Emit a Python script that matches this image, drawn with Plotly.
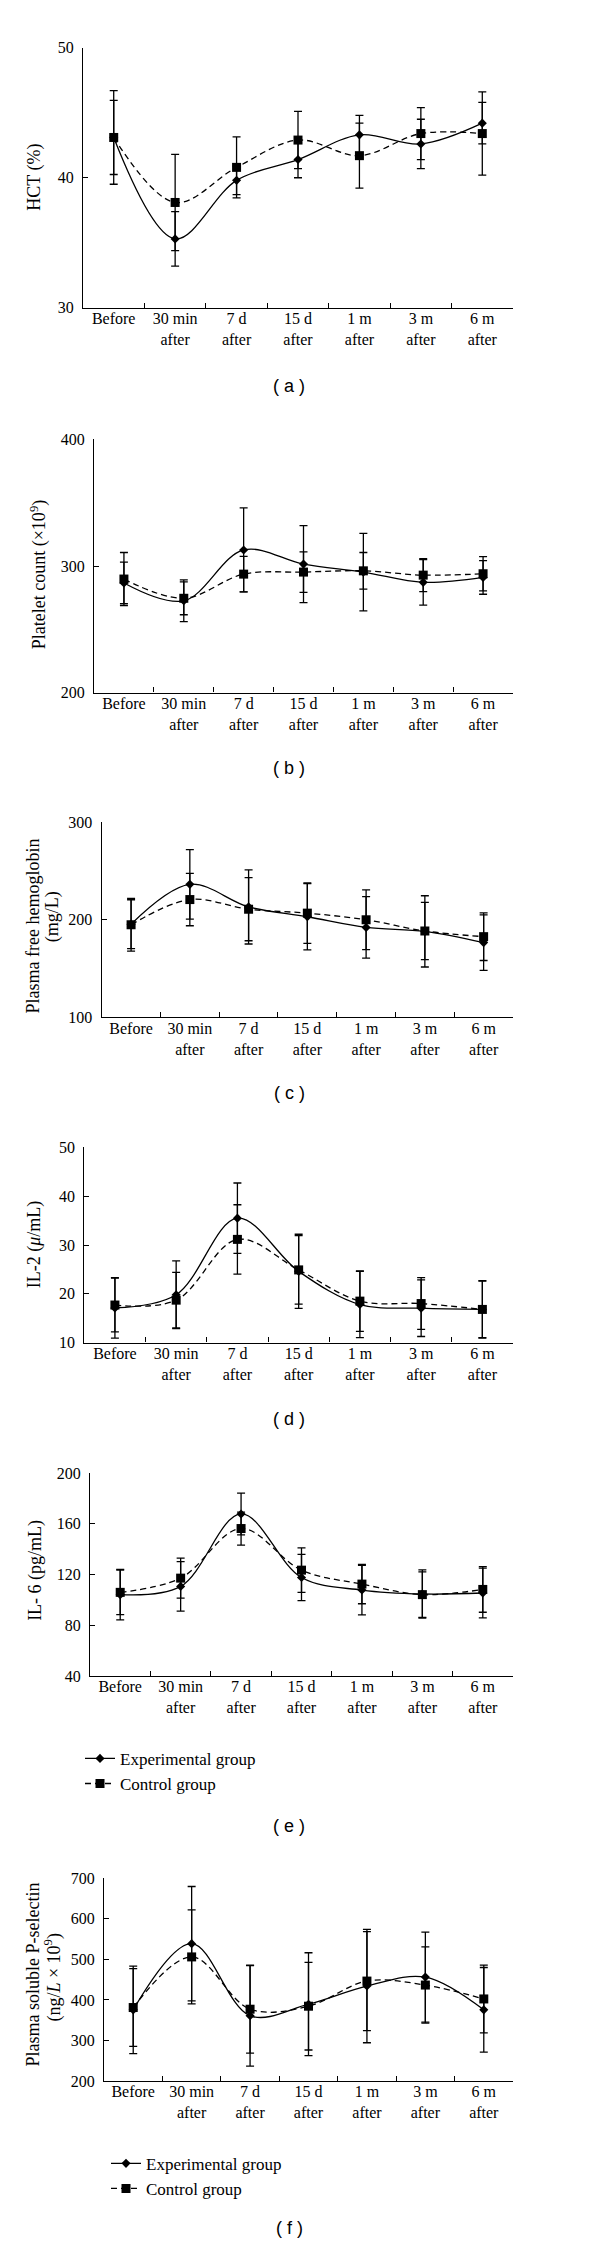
import plotly.graph_objects as go

W, H = 600, 2251

categories = ["Before", "30 min<br>after", "7 d<br>after", "15 d<br>after",
              "1 m<br>after", "3 m<br>after", "6 m<br>after"]

# (a) HCT (%)
hct_exp = [43.1, 35.3, 39.8, 41.4, 43.3, 42.6, 44.2]
hct_exp_sd = [2.85, 2.1, 1.1, 1.4, 1.5, 1.9, 1.6]
hct_ctl = [43.1, 38.1, 40.8, 42.9, 41.7, 43.4, 43.4]
hct_ctl_sd = [3.6, 3.7, 2.35, 2.2, 2.5, 2.0, 3.2]

# (b) Platelet count
plt_exp = [286.6, 272.5, 312.7, 301.5, 295.2, 287.1, 291.0]
plt_exp_sd = [16.4, 16.5, 33.2, 30.5, 30.6, 18.0, 13.3]
plt_ctl = [289.7, 274.5, 293.6, 295.2, 296.2, 292.8, 293.9]
plt_ctl_sd = [21.0, 13.0, 14.0, 16.0, 14.5, 13.0, 13.6]

# (c) Plasma free hemoglobin
hb_exp = [195.5, 236.3, 213.2, 203.1, 192.2, 188.1, 176.6]
hb_exp_sd = [25.0, 35.6, 38.0, 34.0, 31.5, 36.5, 28.5]
hb_ctl = [194.9, 220.7, 210.8, 206.8, 200.0, 188.5, 182.7]
hb_ctl_sd = [27.0, 26.8, 32.3, 31.0, 30.6, 29.4, 24.4]

# (d) IL-2
il2_exp = [17.1, 19.8, 35.5, 24.6, 17.8, 17.05, 16.8]
il2_exp_sd = [6.2, 6.95, 7.2, 7.6, 6.8, 5.8, 5.9]
il2_ctl = [17.7, 18.7, 31.15, 24.9, 18.5, 18.0, 16.8]
il2_ctl_sd = [5.5, 5.7, 7.1, 7.0, 6.2, 5.3, 5.8]

# (e) IL-6
il6_exp = [104.2, 110.7, 167.8, 117.7, 107.8, 104.7, 105.5]
il6_exp_sd = [19.9, 19.5, 16.5, 18.2, 19.5, 19.0, 19.6]
il6_ctl = [106.0, 117.2, 156.3, 123.5, 112.5, 104.2, 108.3]
il6_ctl_sd = [17.5, 15.8, 13.0, 17.6, 15.5, 18.0, 18.0]

# (f) Plasma soluble P-selectin
ps_exp = [375.5, 538.8, 360.8, 389.4, 434.3, 456.3, 375.5]
ps_exp_sd = [108.0, 141.0, 124.0, 127.0, 140.0, 111.0, 104.5]
ps_ctl = [381.2, 506.1, 377.1, 384.5, 446.5, 436.7, 402.4]
ps_ctl_sd = [96.0, 116.0, 108.5, 108.0, 122.0, 94.0, 83.5]

y_ranges = [[30, 50], [200, 400], [100, 300], [10, 50], [40, 200], [200, 700]]
y_ticks = [[30, 40, 50], [200, 300, 400], [100, 200, 300],
           [10, 20, 30, 40, 50], [40, 80, 120, 160, 200],
           [200, 300, 400, 500, 600, 700]]
captions = ["( a )", "( b )", "( c )", "( d )", "( e )", "( f )"]

panels = [
    (hct_exp, hct_exp_sd, hct_ctl, hct_ctl_sd),
    (plt_exp, plt_exp_sd, plt_ctl, plt_ctl_sd),
    (hb_exp, hb_exp_sd, hb_ctl, hb_ctl_sd),
    (il2_exp, il2_exp_sd, il2_ctl, il2_ctl_sd),
    (il6_exp, il6_exp_sd, il6_ctl, il6_ctl_sd),
    (ps_exp, ps_exp_sd, ps_ctl, ps_ctl_sd),
]

# layout boxes in pixels: x0, x1, ytop, ybottom
boxes = [
    (75, 505, 32, 294),
    (86, 505, 426.7, 681.7),
    (93.7, 505, 812.3, 1009),
    (76.3, 505, 1140, 1336.7),
    (82, 505, 1468.2, 1672.7),
    (96, 505, 1876.5, 2080.7),
]
caption_y = [373, 758, 1085, 1414, 1824, 2229]

SERIF = "Liberation Serif"
SANS = "Liberation Sans"

fig = go.Figure()
layout = {}
for i, ((e, esd, c, csd), (x0, x1, yt, yb)) in enumerate(zip(panels, boxes)):
    n = i + 1
    xa = "x" if n == 1 else f"x{n}"
    ya = "y" if n == 1 else f"y{n}"
    legend_name = "legend" if n == 5 else "legend2"
    show = n in (5, 6)
    fig.add_trace(go.Scatter(
        x=categories, y=c, xaxis=xa, yaxis=ya, name="Control group",
        mode="lines+markers", line=dict(color="black", width=1.3, dash="6px,4px", shape="spline"),
        marker=dict(symbol="square", size=9, color="black"),
        error_y=dict(type="data", array=csd, visible=True, color="black", thickness=1.3, width=4),
        showlegend=show, legend=legend_name, legendrank=2, cliponaxis=False))
    fig.add_trace(go.Scatter(
        x=categories, y=e, xaxis=xa, yaxis=ya, name="Experimental group",
        mode="lines+markers", line=dict(color="black", width=1.3, shape="spline"),
        marker=dict(symbol="diamond", size=7, color="black"),
        error_y=dict(type="data", array=esd, visible=True, color="black", thickness=1.3, width=4),
        showlegend=show, legend=legend_name, legendrank=1, cliponaxis=False))

    layout["xaxis" if n == 1 else f"xaxis{n}"] = dict(
        domain=[x0 / W, x1 / W], anchor=ya, type="category", range=[-0.5, 6.5],
        tickson="boundaries", ticks="inside", ticklen=5, tickwidth=1.3, tickcolor="black",
        showline=True, linecolor="black", linewidth=1.3, showgrid=False, zeroline=False,
        ticklabelstandoff=-4,
        tickfont=dict(family=SERIF, size=16, color="black"), fixedrange=True)
    layout["yaxis" if n == 1 else f"yaxis{n}"] = dict(
        domain=[1 - yb / H, 1 - yt / H], anchor=xa, range=y_ranges[i],
        tickvals=y_ticks[i], ticks="inside", ticklen=5, tickwidth=1.3, tickcolor="black",
        showline=True, linecolor="black", linewidth=1.3, showgrid=False, zeroline=False,
        ticklabelstandoff=5,
        tickfont=dict(family=SERIF, size=16, color="black"), fixedrange=True)

annotations = []
for cap, cy in zip(captions, caption_y):
    annotations.append(dict(text=cap, x=281 / W, y=1 - cy / H, xref="paper", yref="paper",
                            showarrow=False, xanchor="center", yanchor="middle",
                            font=dict(family=SANS, size=18, color="black")))

titles = [
    ("HCT (%)", 27, 163),
    ("Platelet count (×10<sup>9</sup>)", 30.5, 563),
    ("Plasma free hemoglobin", 25.5, 917),
    ("(mg/L)", 44, 908),
    ("IL-2 (<i>μ</i>/mL)", 26.7, 1238),
    ("IL- 6 (pg/mL)", 26.7, 1566),
    ("Plasma soluble P-selectin", 25.5, 1974),
    ("(ng/<i>L</i> × 10<sup>9</sup>)", 45.5, 1977),
]
for t, tx, ty in titles:
    annotations.append(dict(text=t, x=tx / W, y=1 - ty / H, xref="paper", yref="paper",
                            showarrow=False, xanchor="center", yanchor="middle", textangle=-90,
                            font=dict(family=SERIF, size=18, color="black")))

legend_style = dict(orientation="v", xanchor="left", yanchor="top", bgcolor="rgba(0,0,0,0)",
                    font=dict(family=SERIF, size=17, color="black"), tracegroupgap=0,
                    traceorder="normal", itemwidth=30)

fig.update_layout(
    width=W, height=H, margin=dict(l=0, r=0, t=0, b=0),
    paper_bgcolor="white", plot_bgcolor="white",
    annotations=annotations,
    legend=dict(x=72 / W, y=1 - 1738 / H, **legend_style),
    legend2=dict(x=98 / W, y=1 - 2146 / H, **legend_style),
    **layout,
)

fig.write_html("out.html")
